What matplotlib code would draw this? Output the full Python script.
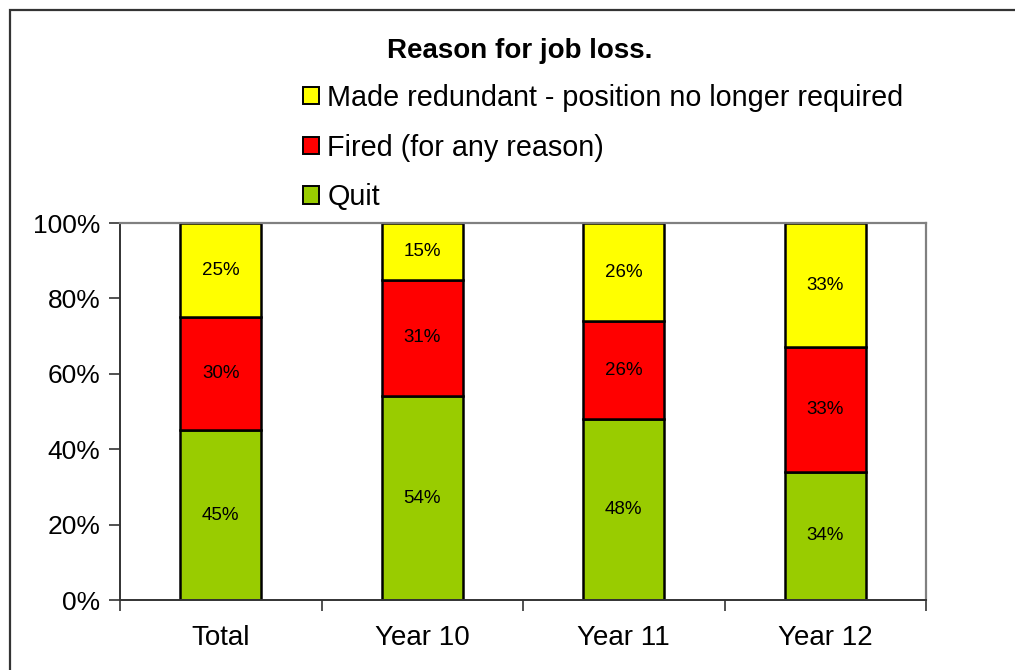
import matplotlib
matplotlib.use("Agg")
import matplotlib.pyplot as plt
from matplotlib.patches import Rectangle, Patch
import numpy as np

categories = ["Total", "Year 10", "Year 11", "Year 12"]
quit_vals = [45, 54, 48, 34]
fired_vals = [30, 31, 26, 33]
redundant_vals = [25, 15, 26, 33]
series_names = ["Made redundant - position no longer required", "Fired (for any reason)", "Quit"]
yticks = [0, 20, 40, 60, 80, 100]
ytick_labels = ["0%", "20%", "40%", "60%", "80%", "100%"]

plt.rcParams['font.family'] = ['Liberation Sans', 'DejaVu Sans']

W, H = 1015, 670
fig = plt.figure(figsize=(W / 100, H / 100), dpi=100)

# outer frame
fig.add_artist(Rectangle((10 / W, -0.01), 1.02 - 10 / W, 1 - 10 / H + 0.01,
                         transform=fig.transFigure, fill=False, edgecolor='#333333', lw=1.6))

ax = fig.add_axes([120 / W, (H - 600) / H, (926 - 120) / W, (600 - 223) / H])
x = np.arange(len(categories))
width = 0.4
green, red, yellow = '#99CC00', '#FF0000', '#FFFF00'

b1 = ax.bar(x, quit_vals, width, color=green, edgecolor='black', lw=1.8)
b2 = ax.bar(x, fired_vals, width, bottom=quit_vals, color=red, edgecolor='black', lw=1.8)
bottom3 = [q + f for q, f in zip(quit_vals, fired_vals)]
b3 = ax.bar(x, redundant_vals, width, bottom=bottom3, color=yellow, edgecolor='black', lw=1.8)

for bars, vals, bots in [(b1, quit_vals, [0] * 4), (b2, fired_vals, quit_vals), (b3, redundant_vals, bottom3)]:
    for xi, v, b in zip(x, vals, bots):
        ax.text(xi, b + v / 2, f"{v}%", ha='center', va='center', fontsize=13.5, color='black')

ax.set_xlim(-0.5, len(categories) - 0.5)
ax.set_ylim(0, 100)
ax.set_yticks(yticks)
ax.set_yticklabels(ytick_labels, fontsize=19)
ax.set_xticks(x)
ax.set_xticklabels(categories, fontsize=20)
ax.tick_params(axis='x', length=0, pad=18)
ax.set_xticks(np.arange(-0.5, len(categories)), minor=True)
ax.tick_params(axis='x', which='minor', length=8, width=1.2, color='#333333', direction='out')
ax.tick_params(axis='y', length=8, width=1.2, color='#333333', direction='out', pad=6)

for s in ['top', 'right']:
    ax.spines[s].set_color('#808080')
    ax.spines[s].set_linewidth(1.6)
for s in ['left', 'bottom']:
    ax.spines[s].set_color('#333333')
    ax.spines[s].set_linewidth(1.4)

fig.text(520 / W, 1 - 51 / H, "Reason for job loss.", ha='center', va='center', fontsize=20, fontweight='bold')

handles = [Patch(facecolor=yellow, edgecolor='black', lw=1.4),
           Patch(facecolor=red, edgecolor='black', lw=1.4),
           Patch(facecolor=green, edgecolor='black', lw=1.4)]
fig.legend(handles, series_names, loc='upper left', bbox_to_anchor=(303 / W, 1 - 84 / H),
           frameon=False, fontsize=20.7, handlelength=0.55, handleheight=0.55,
           handletextpad=0.3, labelspacing=0.75, borderaxespad=0, borderpad=0)

fig.savefig("out.png", dpi=100)
